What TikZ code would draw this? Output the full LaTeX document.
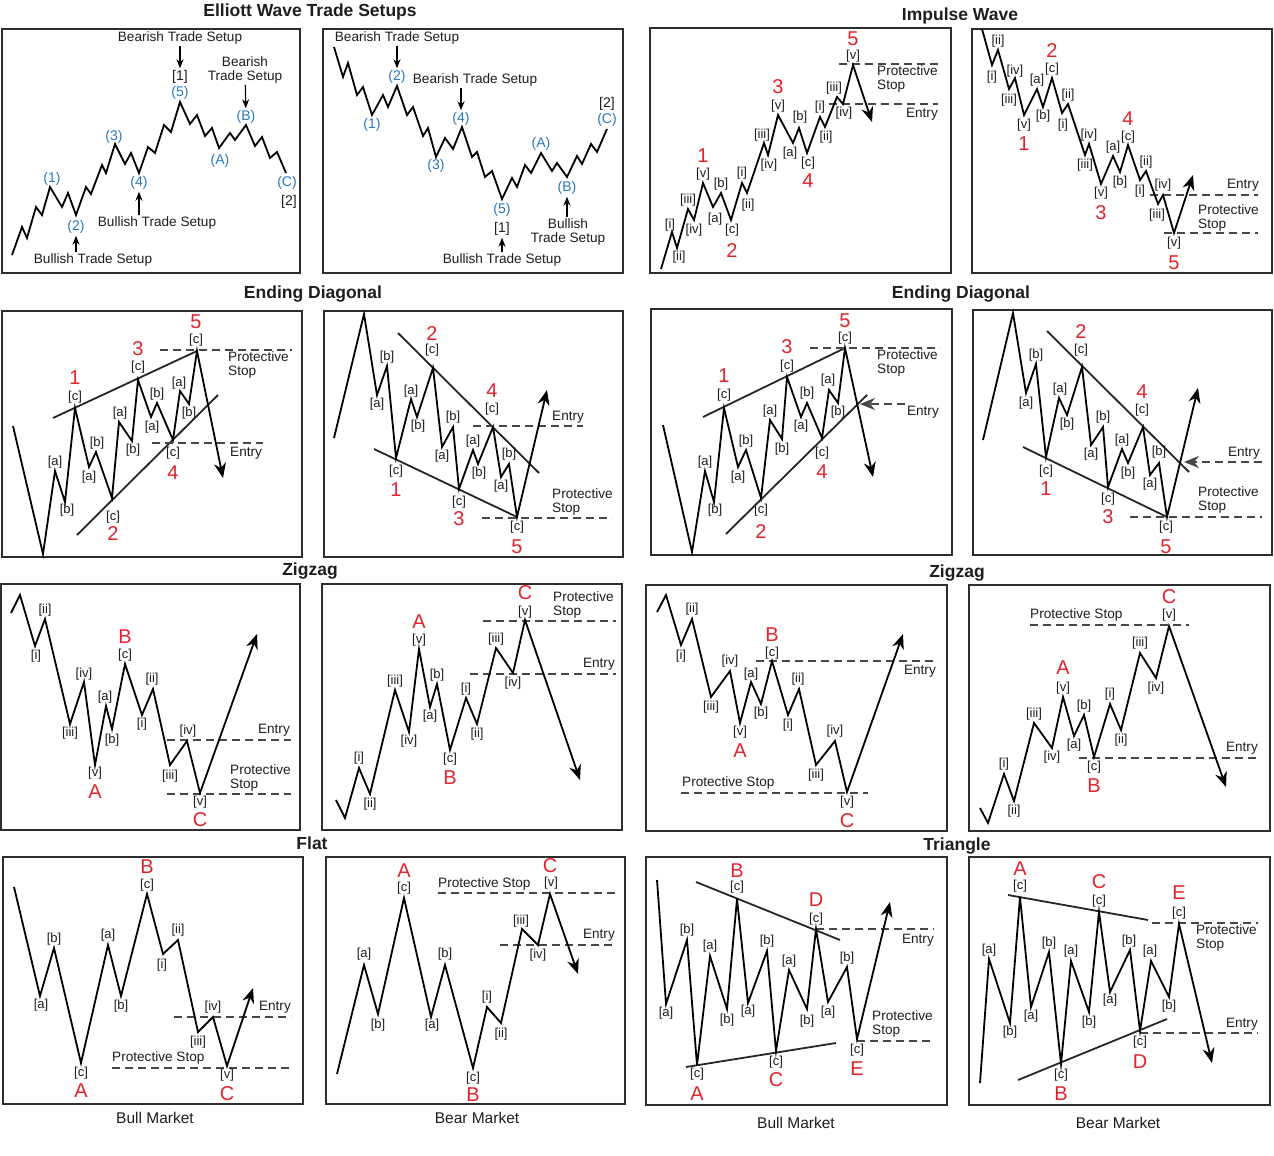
\documentclass[tikz,border=0pt]{standalone}
\usepackage{fontspec}
\setmainfont{Liberation Sans}
\usetikzlibrary{positioning,arrows.meta}
\definecolor{ewred}{RGB}{225,35,45}
\definecolor{ewblue}{RGB}{40,120,190}
\definecolor{ewframe}{RGB}{45,45,45}
\definecolor{ewtext}{RGB}{30,30,30}
\definecolor{ewdash}{RGB}{70,70,70}
\newcommand\ewsmall{\fontsize{13}{14}\selectfont}
\newcommand\ewnote{\fontsize{13.6}{14.5}\selectfont}
\newcommand\ewmid{\fontsize{14}{16}\selectfont}
\newcommand\ewbig{\fontsize{20}{22}\selectfont}
\newcommand\ewfoot{\fontsize{15.5}{17}\selectfont}
\newcommand\ewhead{\fontsize{17.5}{19}\selectfont\bfseries}
\tikzset{
  panel/.style={draw=ewframe, line width=1.5pt},
  wave/.style={line width=1.8pt, black},
  wavearrow/.style={wave, -{Stealth[length=15pt,width=12pt]}},
  trend/.style={line width=1.8pt, black!85},
  stopline/.style={line width=1.6pt, ewdash, dash pattern=on 8pt off 5pt},
  entryarrow/.style={stopline, -{Stealth[length=15pt,width=12pt]}},
  wl/.style={font=\ewsmall, inner sep=0pt, text=ewtext},
  deg/.style={font=\ewbig, inner sep=0pt, text=ewred},
  bl/.style={font=\ewmid, inner sep=0pt, text=ewblue},
  bk/.style={font=\ewmid, inner sep=0pt, text=ewtext},
  note/.style={font=\ewnote, align=left, inner sep=0pt, text=ewtext},
  foot/.style={font=\ewfoot, inner sep=0pt, text=ewtext},
  head/.style={font=\ewhead, inner sep=0pt, text=ewtext},
  setup/.style={-{Stealth[length=9pt,width=7pt]}, line width=1.2pt, shorten >=2pt, shorten <=1pt}
}
\begin{document}
\begin{tikzpicture}[x=1pt, y=-1pt]
  \fill[white] (0,0) rectangle (1274,1156);
  \useasboundingbox (0,0) rectangle (1274,1156);

  \node[head] (t1) at (310,12) {Elliott Wave Trade Setups};
  \node[head] (t2) at (960,16) {Impulse Wave};
  \node[head] (t3) at (313,294) {Ending Diagonal};
  \node[head] (t4) at (961,294) {Ending Diagonal};
  \node[head] (t5) at (310,571) {Zigzag};
  \node[head] (t6) at (957,573) {Zigzag};
  \node[head] (t7) at (312,843) {Flat};
  \node[head] (t8) at (957,846) {Triangle};
  \node[foot] (m1) at (155,1118) {Bull Market};
  \node[foot] (m2) at (477,1118) {Bear Market};
  \node[foot] (m3) at (796,1123) {Bull Market};
  \node[foot] (m4) at (1118,1123) {Bear Market};

  % trade setups, bull
  \draw[panel] (2,29) rectangle (300,273);
  \draw[wave] (12,255) -- (22,227) -- (27,238) -- (36,207) -- (42,215) -- (50,187) -- (62,207) -- (68,193) -- (76,215) -- (86,187) -- (91,194) -- (102,165) -- (106,173) -- (115,144) -- (125,164) -- (131,153) -- (139,173) -- (148,147) -- (155,153) -- (164,125) -- (171,132) -- (180,102) -- (190,124) -- (197,115) -- (205,136) -- (212,128) -- (219,148) -- (230,133) -- (235,140) -- (246,125) -- (255,146) -- (262,137) -- (270,158) -- (277,152) -- (286,173);
  \node[bl] (p1w1) at (52,179) {(1)};
  \node[bl] (p1w2) at (76,227) {(2)};
  \node[bl] (p1w3) at (114,137) {(3)};
  \node[bl] (p1w4) at (139,183) {(4)};
  \node[bl] (p1w5) at (180,93) {(5)};
  \node[bl] (p1wA) at (220,161) {(A)};
  \node[bl] (p1wB) at (246,117) {(B)};
  \node[bl] (p1wC) at (287,183) {(C)};
  \node[bk] (p1k1) at (180,77) {[1]};
  \node[bk] (p1k2) at (289,202) {[2]};
  \node[note] (bear1) at (180,38) {Bearish Trade Setup};
  \node[note, align=center] (bear2) at (245,70) {Bearish\\Trade Setup};
  \node[note] (bull1) at (157,223) {Bullish Trade Setup};
  \node[note] (bull2) at (93,260) {Bullish Trade Setup};
  \draw[setup] (bear1) -- (p1k1);
  \draw[setup] (bear2) -- (p1wB);
  \draw[setup] (bull1.north -| p1w4) -- (p1w4);
  \draw[setup] (bull2.north -| p1w2) -- (p1w2);

  % trade setups, bear
  \draw[panel] (323,29) rectangle (623,273);
  \draw[wave] (334,47) -- (343,77) -- (348,63) -- (357,95) -- (363,87) -- (372,115) -- (383,95) -- (388,107) -- (397,86) -- (407,115) -- (413,107) -- (423,136) -- (428,128) -- (436,157) -- (445,138) -- (453,149) -- (462,127) -- (472,157) -- (477,152) -- (485,177) -- (492,171) -- (502,199) -- (512,178) -- (517,187) -- (525,165) -- (531,173) -- (541,153) -- (552,171) -- (557,163) -- (567,177) -- (577,156) -- (582,164) -- (591,144) -- (597,152) -- (607,129);
  \node[bl] (p2w1) at (372,125) {(1)};
  \node[bl] (p2w2) at (397,77) {(2)};
  \node[bl] (p2w3) at (436,166) {(3)};
  \node[bl] (p2w4) at (461,119) {(4)};
  \node[bl] (p2w5) at (502,210) {(5)};
  \node[bl] (p2wA) at (541,144) {(A)};
  \node[bl] (p2wB) at (567,188) {(B)};
  \node[bl] (p2wC) at (607,120) {(C)};
  \node[bk] (p2k1) at (502,229) {[1]};
  \node[bk] (p2k2) at (607,104) {[2]};
  \node[note] (bear3) at (397,38) {Bearish Trade Setup};
  \node[note] (bear4) at (475,80) {Bearish Trade Setup};
  \node[note, align=center] (bull3) at (568,232) {Bullish\\Trade Setup};
  \node[note] (bull4) at (502,260) {Bullish Trade Setup};
  \draw[setup] (bear3) -- (p2w2);
  \draw[setup] (bear4.south -| p2w4) -- (p2w4);
  \draw[setup] (bull3.north -| p2wB) -- (p2wB);
  \draw[setup] (bull4) -- (p2k1);

  % impulse, bull
  \draw[panel] (650,28) rectangle (951,273);
  \draw[stopline] (839,64) -- (938,64);
  \draw[stopline] (829,104) -- (938,104);
  \draw[wavearrow] (661,269) -- (672,232) -- (677,248) -- (688,209) -- (694,220) -- (703,183) -- (713,207) -- (721,193) -- (731,220) -- (742,183) -- (747,193) -- (764,143) -- (768,155) -- (778,115) -- (793,143) -- (799,128) -- (807,153) -- (820,117) -- (825,127) -- (837,97) -- (843,104) -- (853,65) -- (872,122);
  \node[note, anchor=west] (p3s) at (877,79) {Protective\\Stop};
  \node[note, anchor=east] (p3e) at (938,114) {Entry};
  \foreach \x/\y/\lab [count=\n] in {670/225/{[i]}, 679/257/{[ii]}, 688/200/{[iii]}, 694/230/{[iv]}, 703/174/{[v]}, 715/219/{[a]}, 721/184/{[b]}, 732/230/{[c]}, 742/173/{[i]}, 748/205/{[ii]}, 762/135/{[iii]}, 769/165/{[iv]}, 778/106/{[v]}, 790/153/{[a]}, 800/117/{[b]}, 808/163/{[c]}, 820/107/{[i]}, 826/137/{[ii]}, 834/88/{[iii]}, 844/113/{[iv]}, 853/56/{[v]}}
    \node[wl] (p3l\n) at (\x,\y) {\lab};
  \foreach \x/\y/\lab [count=\n] in {703/156/1, 732/251/2, 778/87/3, 808/181/4, 853/39/5}
    \node[deg] (p3d\n) at (\x,\y) {\lab};

  % impulse, bear
  \draw[panel] (972,29) rectangle (1272,273);
  \draw[stopline] (1150,195) -- (1258,195);
  \draw[stopline] (1164,233) -- (1258,233);
  \draw[wavearrow] (982,29) -- (992,65) -- (998,50) -- (1009,89) -- (1015,78) -- (1024,115) -- (1037,89) -- (1043,107) -- (1052,78) -- (1062,113) -- (1068,104) -- (1085,155) -- (1089,144) -- (1101,184) -- (1113,156) -- (1120,172) -- (1128,145) -- (1140,180) -- (1146,171) -- (1158,204) -- (1163,195) -- (1174,233) -- (1193,175);
  \node[note, anchor=east] (p4e) at (1259,185) {Entry};
  \node[note, anchor=west] (p4s) at (1198,218) {Protective\\Stop};
  \foreach \x/\y/\lab [count=\n] in {998/41/{[ii]}, 992/77/{[i]}, 1015/71/{[iv]}, 1009/100/{[iii]}, 1024/125/{[v]}, 1037/80/{[a]}, 1043/116/{[b]}, 1052/69/{[c]}, 1068/95/{[ii]}, 1063/125/{[i]}, 1089/135/{[iv]}, 1085/165/{[iii]}, 1101/193/{[v]}, 1113/147/{[a]}, 1120/182/{[b]}, 1128/137/{[c]}, 1146/162/{[ii]}, 1140/191/{[i]}, 1163/185/{[iv]}, 1157/215/{[iii]}, 1174/243/{[v]}}
    \node[wl] (p4l\n) at (\x,\y) {\lab};
  \foreach \x/\y/\lab [count=\n] in {1024/144/1, 1052/51/2, 1101/213/3, 1128/119/4, 1174/263/5}
    \node[deg] (p4d\n) at (\x,\y) {\lab};

  % ending diagonal, bull (1)
  \draw[panel] (2,311) rectangle (302,557);
  \draw[trend] (53,418) -- (197,351);
  \draw[trend] (77,535) -- (218,395);
  \draw[stopline] (160,350) -- (292,350);
  \draw[stopline] (152,443) -- (263,443);
  \draw[wavearrow] (13,426) -- (43,554) -- (55,471) -- (65,502) -- (75,408) -- (89,467) -- (96,452) -- (112,498) -- (119,422) -- (132,441) -- (138,380) -- (151,417) -- (157,403) -- (173,440) -- (180,391) -- (189,404) -- (197,351) -- (223,478);
  \node[note, anchor=west] (p5s) at (228,365) {Protective\\Stop};
  \node[note, anchor=west] (p5e) at (230,453) {Entry};
  \foreach \x/\y/\lab [count=\n] in {55/462/{[a]}, 67/510/{[b]}, 75/397/{[c]}, 89/477/{[a]}, 97/443/{[b]}, 113/517/{[c]}, 120/413/{[a]}, 133/450/{[b]}, 138/367/{[c]}, 152/427/{[a]}, 157/394/{[b]}, 173/453/{[c]}, 179/383/{[a]}, 189/413/{[b]}, 196/340/{[c]}}
    \node[wl] (p5l\n) at (\x,\y) {\lab};
  \foreach \x/\y/\lab [count=\n] in {75/378/1, 113/534/2, 138/349/3, 173/473/4, 196/322/5}
    \node[deg] (p5d\n) at (\x,\y) {\lab};

  % ending diagonal, bear (1)
  \draw[panel] (324,311) rectangle (623,557);
  \draw[trend] (398,333) -- (539,473);
  \draw[trend] (374,449) -- (517,517);
  \draw[stopline] (473,426) -- (583,426);
  \draw[stopline] (482,518) -- (612,518);
  \draw[wavearrow] (334,438) -- (364,314) -- (377,395) -- (387,366) -- (396,458) -- (411,399) -- (417,417) -- (433,368) -- (442,447) -- (453,427) -- (459,489) -- (473,450) -- (478,464) -- (493,427) -- (501,477) -- (509,464) -- (517,517) -- (547,390);
  \node[note, anchor=west] (p6e) at (552,417) {Entry};
  \node[note, anchor=west] (p6s) at (552,502) {Protective\\Stop};
  \foreach \x/\y/\lab [count=\n] in {387/357/{[b]}, 377/404/{[a]}, 396/471/{[c]}, 411/391/{[a]}, 418/426/{[b]}, 432/350/{[c]}, 453/417/{[b]}, 442/456/{[a]}, 459/502/{[c]}, 473/441/{[a]}, 479/473/{[b]}, 492/409/{[c]}, 509/454/{[b]}, 501/486/{[a]}, 517/527/{[c]}}
    \node[wl] (p6l\n) at (\x,\y) {\lab};
  \foreach \x/\y/\lab [count=\n] in {396/490/1, 432/334/2, 459/519/3, 492/391/4, 517/547/5}
    \node[deg] (p6d\n) at (\x,\y) {\lab};

  % ending diagonal, bull (2)
  \draw[panel] (651,309) rectangle (952,555);
  \draw[trend] (703,417) -- (845,348);
  \draw[trend] (726,534) -- (867,395);
  \draw[stopline] (810,348) -- (940,348);
  \draw[entryarrow] (905,404) -- (860,404);
  \draw[wavearrow] (663,425) -- (692,552) -- (705,471) -- (714,502) -- (724,408) -- (738,467) -- (746,450) -- (761,498) -- (770,420) -- (782,439) -- (787,377) -- (801,417) -- (807,403) -- (822,438) -- (829,390) -- (838,403) -- (845,348) -- (873,477);
  \node[note, anchor=west] (p7s) at (877,363) {Protective\\Stop};
  \node[note, anchor=east] (p7e) at (939,412) {Entry};
  \foreach \x/\y/\lab [count=\n] in {705/462/{[a]}, 715/510/{[b]}, 724/395/{[c]}, 738/477/{[a]}, 746/441/{[b]}, 761/510/{[c]}, 770/411/{[a]}, 782/449/{[b]}, 787/366/{[c]}, 801/426/{[a]}, 807/393/{[b]}, 822/453/{[c]}, 828/380/{[a]}, 838/412/{[b]}, 845/338/{[c]}}
    \node[wl] (p7l\n) at (\x,\y) {\lab};
  \foreach \x/\y/\lab [count=\n] in {724/376/1, 761/532/2, 787/347/3, 822/472/4, 845/321/5}
    \node[deg] (p7d\n) at (\x,\y) {\lab};

  % ending diagonal, bear (2)
  \draw[panel] (973,310) rectangle (1272,555);
  \draw[trend] (1047,331) -- (1189,472);
  \draw[trend] (1023,447) -- (1167,517);
  \draw[stopline] (1130,517) -- (1262,517);
  \draw[entryarrow] (1262,462) -- (1184,462);
  \draw[wavearrow] (983,440) -- (1013,313) -- (1026,393) -- (1036,364) -- (1046,457) -- (1059,398) -- (1067,415) -- (1082,367) -- (1091,445) -- (1103,427) -- (1108,487) -- (1122,449) -- (1128,463) -- (1143,427) -- (1150,475) -- (1159,463) -- (1167,517) -- (1198,388);
  \node[note, anchor=east] (p8e) at (1260,453) {Entry};
  \node[note, anchor=west] (p8s) at (1198,500) {Protective\\Stop};
  \foreach \x/\y/\lab [count=\n] in {1036/355/{[b]}, 1026/403/{[a]}, 1046/471/{[c]}, 1060/389/{[a]}, 1067/424/{[b]}, 1081/350/{[c]}, 1103/417/{[b]}, 1091/454/{[a]}, 1108/499/{[c]}, 1122/440/{[a]}, 1128/473/{[b]}, 1142/410/{[c]}, 1159/452/{[b]}, 1150/484/{[a]}, 1166/527/{[c]}}
    \node[wl] (p8l\n) at (\x,\y) {\lab};
  \foreach \x/\y/\lab [count=\n] in {1046/489/1, 1081/332/2, 1108/517/3, 1142/392/4, 1166/547/5}
    \node[deg] (p8d\n) at (\x,\y) {\lab};

  % zigzag, bull (1)
  \draw[panel] (1,584) rectangle (300,830);
  \draw[stopline] (167,740) -- (291,740);
  \draw[stopline] (167,794) -- (291,794);
  \draw[wavearrow] (11,613) -- (20,595) -- (35,646) -- (45,619) -- (70,724) -- (84,682) -- (95,765) -- (106,706) -- (112,729) -- (125,664) -- (142,715) -- (153,689) -- (170,765) -- (187,741) -- (200,793) -- (257,634);
  \node[note, anchor=east] (p9e) at (290,730) {Entry};
  \node[note, anchor=west] (p9s) at (230,778) {Protective\\Stop};
  \foreach \x/\y/\lab [count=\n] in {45/610/{[ii]}, 36/656/{[i]}, 84/674/{[iv]}, 70/733/{[iii]}, 95/773/{[v]}, 105/697/{[a]}, 112/740/{[b]}, 125/655/{[c]}, 152/679/{[ii]}, 142/724/{[i]}, 188/731/{[iv]}, 170/776/{[iii]}, 200/802/{[v]}}
    \node[wl] (p9l\n) at (\x,\y) {\lab};
  \foreach \x/\y/\lab [count=\n] in {95/792/A, 125/637/B, 200/820/C}
    \node[deg] (p9d\n) at (\x,\y) {\lab};

  % zigzag, bear (1)
  \draw[panel] (322,584) rectangle (622,830);
  \draw[stopline] (483,621) -- (616,621);
  \draw[stopline] (470,674) -- (616,674);
  \draw[wavearrow] (336,800) -- (345,818) -- (359,768) -- (370,794) -- (395,690) -- (409,732) -- (419,649) -- (430,707) -- (437,684) -- (450,750) -- (466,698) -- (477,724) -- (496,648) -- (513,673) -- (525,620) -- (580,780);
  \node[note, anchor=west] (p10s) at (553,605) {Protective\\Stop};
  \node[note, anchor=east] (p10e) at (615,664) {Entry};
  \foreach \x/\y/\lab [count=\n] in {359/758/{[i]}, 370/804/{[ii]}, 395/681/{[iii]}, 409/741/{[iv]}, 419/640/{[v]}, 430/716/{[a]}, 437/675/{[b]}, 450/759/{[c]}, 466/689/{[i]}, 477/734/{[ii]}, 496/639/{[iii]}, 513/683/{[iv]}, 525/612/{[v]}}
    \node[wl] (p10l\n) at (\x,\y) {\lab};
  \foreach \x/\y/\lab [count=\n] in {419/622/A, 450/778/B, 525/593/C}
    \node[deg] (p10d\n) at (\x,\y) {\lab};

  % zigzag, bull (2)
  \draw[panel] (646,585) rectangle (947,831);
  \draw[stopline] (756,661) -- (938,661);
  \draw[stopline] (681,793) -- (868,793);
  \draw[wavearrow] (657,612) -- (666,595) -- (681,645) -- (692,619) -- (711,697) -- (730,671) -- (740,723) -- (751,682) -- (761,704) -- (772,661) -- (788,715) -- (799,689) -- (816,765) -- (835,741) -- (847,792) -- (903,634);
  \node[note, anchor=east] (p11e) at (936,671) {Entry};
  \node[note, anchor=west] (p11s) at (682,783) {Protective Stop};
  \foreach \x/\y/\lab [count=\n] in {692/609/{[ii]}, 681/656/{[i]}, 730/661/{[iv]}, 711/707/{[iii]}, 740/732/{[v]}, 751/674/{[a]}, 761/713/{[b]}, 772/653/{[c]}, 798/679/{[ii]}, 788/725/{[i]}, 835/731/{[iv]}, 816/775/{[iii]}, 847/802/{[v]}}
    \node[wl] (p11l\n) at (\x,\y) {\lab};
  \foreach \x/\y/\lab [count=\n] in {740/751/A, 772/635/B, 847/821/C}
    \node[deg] (p11d\n) at (\x,\y) {\lab};

  % zigzag, bear (2)
  \draw[panel] (969,585) rectangle (1270,831);
  \draw[stopline] (1030,625) -- (1189,625);
  \draw[stopline] (1079,758) -- (1259,758);
  \draw[wavearrow] (980,808) -- (988,823) -- (1004,774) -- (1014,801) -- (1034,723) -- (1052,748) -- (1063,697) -- (1074,736) -- (1084,715) -- (1094,757) -- (1110,704) -- (1121,730) -- (1140,653) -- (1156,678) -- (1169,626) -- (1226,787);
  \node[note, anchor=west] (p12s) at (1030,615) {Protective Stop};
  \node[note, anchor=east] (p12e) at (1258,748) {Entry};
  \foreach \x/\y/\lab [count=\n] in {1004/764/{[i]}, 1014/811/{[ii]}, 1034/714/{[iii]}, 1052/757/{[iv]}, 1063/688/{[v]}, 1074/745/{[a]}, 1084/706/{[b]}, 1094/767/{[c]}, 1110/694/{[i]}, 1121/740/{[ii]}, 1140/643/{[iii]}, 1156/688/{[iv]}, 1169/615/{[v]}}
    \node[wl] (p12l\n) at (\x,\y) {\lab};
  \foreach \x/\y/\lab [count=\n] in {1063/668/A, 1094/786/B, 1169/597/C}
    \node[deg] (p12d\n) at (\x,\y) {\lab};

  % flat, bull
  \draw[panel] (3,857) rectangle (303,1104);
  \draw[stopline] (174,1017) -- (291,1017);
  \draw[stopline] (112,1068) -- (291,1068);
  \draw[wavearrow] (14,887) -- (40,996) -- (54,948) -- (81,1063) -- (108,945) -- (121,996) -- (147,894) -- (163,954) -- (178,940) -- (198,1032) -- (213,1017) -- (227,1066) -- (253,988);
  \node[note, anchor=east] (p13e) at (291,1007) {Entry};
  \node[note, anchor=west] (p13s) at (112,1058) {Protective Stop};
  \foreach \x/\y/\lab [count=\n] in {41/1005/{[a]}, 54/939/{[b]}, 81/1073/{[c]}, 108/935/{[a]}, 121/1006/{[b]}, 147/885/{[c]}, 162/965/{[i]}, 178/930/{[ii]}, 213/1007/{[iv]}, 198/1042/{[iii]}, 227/1075/{[v]}}
    \node[wl] (p13l\n) at (\x,\y) {\lab};
  \foreach \x/\y/\lab [count=\n] in {81/1091/A, 147/867/B, 227/1094/C}
    \node[deg] (p13d\n) at (\x,\y) {\lab};

  % flat, bear
  \draw[panel] (326,857) rectangle (625,1104);
  \draw[stopline] (438,893) -- (615,893);
  \draw[stopline] (500,945) -- (615,945);
  \draw[wavearrow] (337,1074) -- (364,965) -- (378,1014) -- (404,898) -- (431,1017) -- (445,965) -- (473,1068) -- (487,1007) -- (501,1023) -- (522,929) -- (538,945) -- (550,894) -- (578,974);
  \node[note, anchor=west] (p14s) at (438,884) {Protective Stop};
  \node[note, anchor=east] (p14e) at (615,935) {Entry};
  \foreach \x/\y/\lab [count=\n] in {364/954/{[a]}, 378/1025/{[b]}, 404/888/{[c]}, 445/954/{[b]}, 432/1025/{[a]}, 473/1078/{[c]}, 487/997/{[i]}, 501/1034/{[ii]}, 521/921/{[iii]}, 538/955/{[iv]}, 551/883/{[v]}}
    \node[wl] (p14l\n) at (\x,\y) {\lab};
  \foreach \x/\y/\lab [count=\n] in {404/871/A, 473/1095/B, 550/866/C}
    \node[deg] (p14d\n) at (\x,\y) {\lab};

  % triangle, bull
  \draw[panel] (646,857) rectangle (947,1105);
  \draw[trend] (696,882) -- (840,940);
  \draw[trend] (686,1067) -- (836,1043);
  \draw[stopline] (816,929) -- (934,929);
  \draw[stopline] (857,1041) -- (934,1041);
  \draw[wavearrow] (657,880) -- (666,1004) -- (687,940) -- (697,1065) -- (710,956) -- (727,1009) -- (737,899) -- (748,1003) -- (767,951) -- (776,1051) -- (789,970) -- (807,1009) -- (816,929) -- (828,1002) -- (847,967) -- (857,1039) -- (890,902);
  \node[note, anchor=east] (p15e) at (934,940) {Entry};
  \node[note, anchor=west] (p15s) at (872,1024) {Protective\\Stop};
  \foreach \x/\y/\lab [count=\n] in {666/1013/{[a]}, 687/930/{[b]}, 697/1074/{[c]}, 710/946/{[a]}, 727/1020/{[b]}, 737/887/{[c]}, 748/1011/{[a]}, 767/941/{[b]}, 776/1062/{[c]}, 789/961/{[a]}, 807/1021/{[b]}, 816/919/{[c]}, 828/1012/{[a]}, 847/958/{[b]}, 857/1050/{[c]}}
    \node[wl] (p15l\n) at (\x,\y) {\lab};
  \foreach \x/\y/\lab [count=\n] in {697/1094/A, 737/871/B, 776/1080/C, 816/900/D, 857/1069/E}
    \node[deg] (p15d\n) at (\x,\y) {\lab};

  % triangle, bear
  \draw[panel] (969,857) rectangle (1270,1105);
  \draw[trend] (1008,895) -- (1148,920);
  \draw[trend] (1018,1080) -- (1167,1019);
  \draw[stopline] (1152,923) -- (1258,923);
  \draw[stopline] (1140,1033) -- (1258,1033);
  \draw[wavearrow] (980,1083) -- (989,959) -- (1010,1023) -- (1020,897) -- (1031,1007) -- (1049,952) -- (1061,1064) -- (1071,961) -- (1089,1012) -- (1099,912) -- (1110,992) -- (1130,950) -- (1140,1031) -- (1151,961) -- (1169,997) -- (1179,924) -- (1212,1063);
  \node[note, anchor=west] (p16s) at (1196,938) {Protective\\Stop};
  \node[note, anchor=east] (p16e) at (1258,1024) {Entry};
  \foreach \x/\y/\lab [count=\n] in {989/950/{[a]}, 1010/1032/{[b]}, 1020/886/{[c]}, 1031/1016/{[a]}, 1049/943/{[b]}, 1061/1075/{[c]}, 1071/951/{[a]}, 1089/1022/{[b]}, 1099/901/{[c]}, 1110/1000/{[a]}, 1129/941/{[b]}, 1140/1042/{[c]}, 1150/951/{[a]}, 1169/1006/{[b]}, 1179/913/{[c]}}
    \node[wl] (p16l\n) at (\x,\y) {\lab};
  \foreach \x/\y/\lab [count=\n] in {1020/869/A, 1061/1094/B, 1099/882/C, 1140/1062/D, 1179/893/E}
    \node[deg] (p16d\n) at (\x,\y) {\lab};
\end{tikzpicture}
\end{document}
